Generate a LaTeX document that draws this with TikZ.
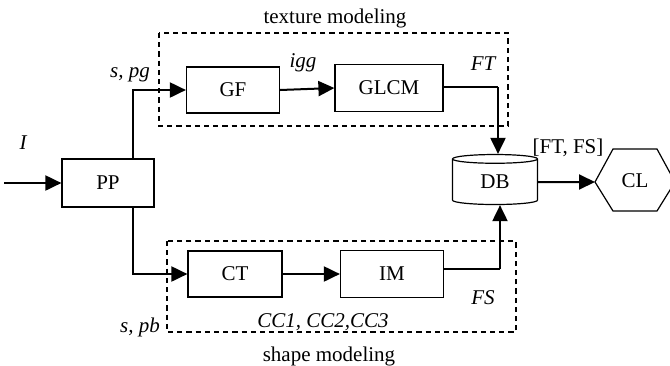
\documentclass[tikz,border=0pt]{standalone}
\usepackage{fontspec}
\setmainfont{Liberation Serif}
\usetikzlibrary{shapes.geometric}
\usetikzlibrary{arrows.meta}
\usetikzlibrary{calc}
\tikzstyle{Box}=[draw,rectangle,line width=0.6pt,inner sep=0pt,
font=\fontsize{10.5}{12}\selectfont]
\tikzstyle{Edge}=[draw,line width=1pt]
\tikzstyle{EdgeThin}=[draw,line width=0.6pt]
\tikzstyle{Arrow}=[Edge,-{Triangle[length=8pt,width=7.5pt]}]
\tikzstyle{Zone}=[draw,line width=0.6pt,dash pattern=on 2.6pt off 2pt]
\tikzstyle{Lab}=[font=\fontsize{10.5}{12}\selectfont\itshape]
\tikzstyle{LabUp}=[font=\fontsize{10.5}{12}\selectfont]

\begin{document}
\begin{tikzpicture}[x=0.5pt,y=-0.5pt]
    \useasboundingbox(0,0)rectangle(670,365);
    % blocks
    \node[Box,minimum width=46pt,minimum height=24pt](PP)at(108,183){PP};
    \node[Box,minimum width=46.5pt,minimum height=23pt](GF)at(233,90){GF};
    \node[Box,minimum width=54pt,minimum height=23.5pt](GLCM)at(389,88){GLCM};
    \node[Box,minimum width=47pt,minimum height=23pt](CT)at(235,274){CT};
    \node[Box,minimum width=51.5pt,minimum height=23.5pt](IM)at(392,274){IM};
    \node[Box,cylinder,shape border rotate=90,aspect=0.3,
        minimum width=42.5pt,minimum height=25pt](DB)at(495,182){DB};
    \node[LabUp](CL)at(635,181){CL};
    \draw[EdgeThin]($(CL)+(-40,1)$)--($(CL)+(-22,-32)$)--($(CL)+(22,-32)$)
        --($(CL)+(40,1)$)--($(CL)+(22,30)$)--($(CL)+(-22,30)$)--cycle;
    % zones
    \draw[Zone](159,33)rectangle(508,126);
    \draw[Zone](167,241)rectangle(516,332);
    % labels
    \node[Lab](I)at(23,143){I};
    \node[Lab](spg)at(130,75){s, pg};
    \node[Lab](igg)at(303,63){igg};
    \node[Lab](FT)at(483,64){FT};
    \node[LabUp](FTFS)at(568,148){[FT, FS]};
    \node[Lab](FS)at(483,298){FS};
    \node[Lab](CC)at(323,322){CC1, CC2,CC3};
    \node[Lab](spb)at(140,327){s, pb};
    \node[LabUp](tm)at(335,18){texture modeling};
    \node[LabUp](sm)at(329,356){shape modeling};
    % connectors
    \coordinate(in)at(4,183);
    \coordinate(sp)at(133,90);
    \coordinate(sb)at(133,275);
    \coordinate(ft)at(498,87);
    \coordinate(fs)at(500,269);
    \coordinate(clw)at(595,182);
    \draw[Arrow](in)--(PP.west);
    \draw[Arrow](PP.north-|sp)|-(GF.west);
    \draw[Arrow](PP.south-|sb)|-(CT.west);
    \draw[Arrow](GF.east)--(GLCM.west);
    \draw[Arrow](CT.east)--(IM.west);
    \draw[EdgeThin](GLCM.east|-ft)--(ft);
    \draw[Arrow](ft)--(ft|-DB.north);
    \draw[EdgeThin](IM.east|-fs)--(fs);
    \draw[Arrow](fs)--(fs|-DB.south);
    \draw[Arrow](DB.east)--(clw);
\end{tikzpicture}
\end{document}
